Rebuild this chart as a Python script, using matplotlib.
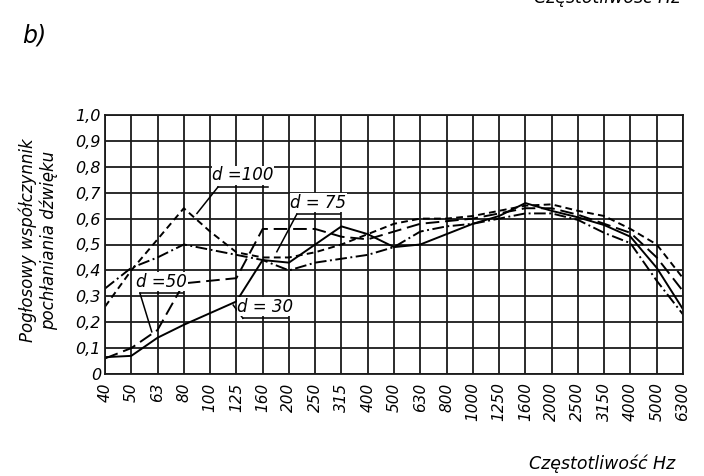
import matplotlib
matplotlib.use("Agg")
import matplotlib.pyplot as plt

plt.rcParams['font.family'] = ['DejaVu Sans']
plt.rcParams['font.style'] = 'italic'

# Frequency bands (Hz)
freqs = ["40", "50", "63", "80", "100", "125", "160", "200", "250", "315", "400", "500",
         "630", "800", "1000", "1250", "1600", "2000", "2500", "3150", "4000", "5000", "6300"]

# Absorption coefficient
d30 = [0.065, 0.07, 0.14, 0.19, 0.235, 0.28, 0.44, 0.43, 0.50, 0.57, 0.54, 0.49,
       0.50, 0.54, 0.58, 0.61, 0.66, 0.63, 0.605, 0.575, 0.53, 0.41, 0.25]
d50 = [0.06, 0.10, 0.17, 0.35, 0.36, 0.37, 0.56, 0.56, 0.56, 0.53, 0.52, 0.55,
       0.58, 0.59, 0.60, 0.62, 0.64, 0.64, 0.615, 0.58, 0.545, 0.45, 0.32]
d75 = [0.33, 0.41, 0.45, 0.50, 0.48, 0.46, 0.44, 0.40, 0.43, 0.445, 0.46, 0.49,
       0.55, 0.57, 0.58, 0.60, 0.62, 0.62, 0.595, 0.545, 0.505, 0.36, 0.23]
d100 = [0.26, 0.40, 0.52, 0.64, 0.55, 0.47, 0.45, 0.45, 0.47, 0.50, 0.54, 0.58,
        0.60, 0.60, 0.61, 0.63, 0.65, 0.655, 0.63, 0.61, 0.56, 0.50, 0.37]

yticks = [i / 10 for i in range(11)]
ylabels = ["0" if i == 0 else f"{i / 10:.1f}".replace(".", ",") for i in range(11)]

x = list(range(len(freqs)))

fig = plt.figure(figsize=(7.04, 4.76), dpi=100)
ax = fig.add_axes([105 / 704, 1 - 374 / 476, 578 / 704, 259 / 476])

ax.plot(x, d30, color='black', lw=1.4, linestyle='-')
ax.plot(x, d50, color='black', lw=1.4, linestyle=(0, (7, 3)))
ax.plot(x, d75, color='black', lw=1.4, linestyle=(0, (6, 1.8, 1, 1.8)))
ax.plot(x, d100, color='black', lw=1.4, linestyle=(0, (3.5, 2.2)))

ax.set_xlim(0, len(freqs) - 1)
ax.set_ylim(0, 1)
ax.set_xticks(x)
ax.set_xticklabels(freqs, rotation=90, fontsize=11)
ax.set_yticks(yticks)
ax.set_yticklabels(ylabels, fontsize=11.5)
ax.tick_params(axis='y', length=0, pad=3)
ax.tick_params(axis='x', length=0, pad=6)
ax.grid(True, color='#1a1a1a', lw=1.3)
for s in ax.spines.values():
    s.set_color('#1a1a1a')
    s.set_linewidth(1.3)

# curve labels with underline and leader
labels = [
    ("d =100", 4.3, 6.2, 0.722, 3.5, 0.62),
    ("d = 75", 7.3, 8.95, 0.617, 6.54, 0.472),
    ("d =50", 1.33, 2.97, 0.312, 1.78, 0.163),
    ("d = 30", 5.25, 6.97, 0.215, 4.88, 0.266),
]
for txt, x0, x1, yu, xl, yl in labels:
    ax.text((x0 + x1) / 2, yu + 0.01, txt, ha='center', va='bottom', fontsize=12,
            bbox=dict(facecolor='white', edgecolor='none', pad=0.5))
    ax.plot([x0, x1], [yu, yu], color='black', lw=1.1)
    ax.plot([x0, xl], [yu, yl], color='black', lw=1.1)

fig.text(38 / 704, 1 - 240 / 476, "Pogłosowy współczynnik\npochłaniania dźwięku",
         rotation=90, ha='center', va='center', fontsize=12, linespacing=1.2)
fig.text(675 / 704, 1 - 464 / 476, "Częstotliwość Hz", ha='right', va='center', fontsize=12.5)
fig.text(22 / 704, 1 - 36 / 476, "b)", ha='left', va='center', fontsize=17)
fig.text(680 / 704, 1 + 2 / 476, "Częstotliwość Hz", ha='right', va='center', fontsize=12.5)

fig.savefig("out.png", dpi=100)
